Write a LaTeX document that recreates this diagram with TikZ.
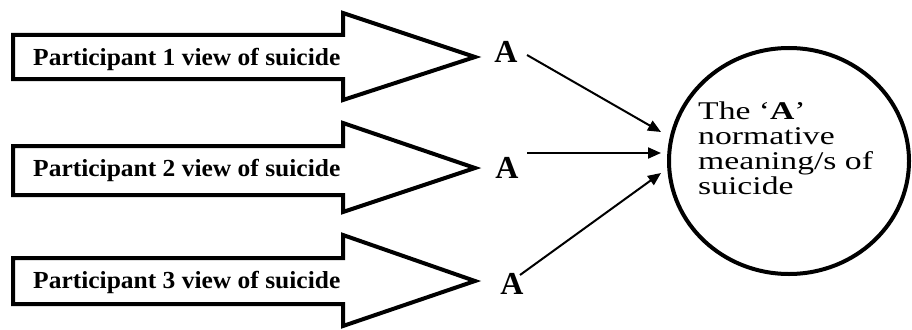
\documentclass[tikz,border=0pt]{standalone}
\usepackage{fontspec}
\setmainfont{Liberation Serif}
\newfontfamily\widefont[FakeStretch=1.32]{Liberation Serif}
\newfontfamily\plabelfont[FakeStretch=1.04]{Liberation Serif}
\usetikzlibrary{arrows.meta,shapes.geometric}
\tikzset{
  bigarrow/.style={draw=black,line width=4pt,fill=white,line join=miter},
  plabel/.style={anchor=west,inner sep=0pt,font=\plabelfont\fontsize{24.5}{28}\selectfont\bfseries},
  aletter/.style={inner sep=0pt,font=\fontsize{32}{34}\selectfont\bfseries},
  conn/.style={line width=2pt,-{Triangle[length=13pt,width=11pt]}},
  meaning/.style={draw=black,line width=4pt,ellipse,minimum width=240pt,minimum height=226pt,inner sep=0pt},
}
\begin{document}
\begin{tikzpicture}[x=1pt,y=-1pt]
\useasboundingbox (0,0) rectangle (912,329);
% big outline arrows
\draw[bigarrow] (13,35) -- (343,35) -- (343,13) -- (475,57) -- (343,100) -- (343,79) -- (13,79) -- cycle;
\draw[bigarrow] (13,146) -- (343,146) -- (343,123) -- (475,168) -- (343,212) -- (343,195) -- (13,195) -- cycle;
\draw[bigarrow] (13,258) -- (343,258) -- (343,235) -- (475,281) -- (343,326) -- (343,304) -- (13,304) -- cycle;
\node[plabel] (p1) at (33,59) {Participant 1 view of suicide};
\node[plabel] (p2) at (33,170) {Participant 2 view of suicide};
\node[plabel] (p3) at (33,282) {Participant 3 view of suicide};
% A letters
\node[aletter] (a1) at (506,52) {A};
\node[aletter] (a2) at (507,168) {A};
\node[aletter] (a3) at (512,284) {A};
% circle
\node[meaning] (m) at (789,161) {};
\node[anchor=north west,inner sep=0pt,align=left,font=\widefont\fontsize{25.5}{25}\selectfont] (mt) at (698,102)
  {The ‘\textbf{A}’\\normative\\meaning/s of\\suicide};
% connectors
\coordinate (s1) at (527,55);
\coordinate (s2) at (527,153);
\coordinate (s3) at (520,275);
\coordinate (e1) at (661,132);
\coordinate (e2) at (661,153);
\coordinate (e3) at (661,173);
\draw[conn] (s1) -- (e1);
\draw[conn] (s2) -- (e2);
\draw[conn] (s3) -- (e3);
\end{tikzpicture}
\end{document}
